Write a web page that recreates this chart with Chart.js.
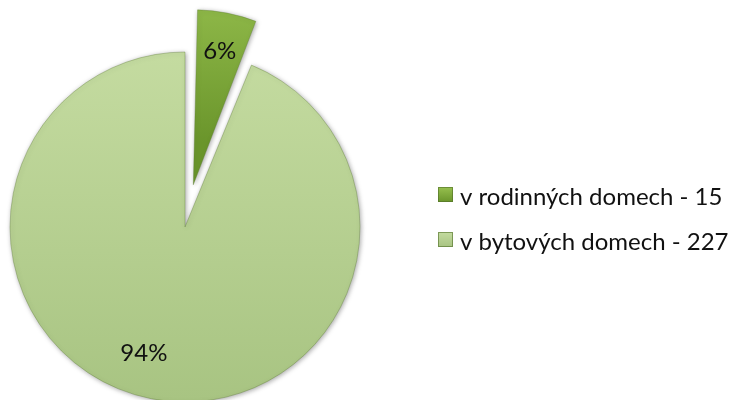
<!DOCTYPE html>
<html>
<head>
<meta charset="utf-8">
<script src="https://cdn.jsdelivr.net/npm/chart.js@4.4.1/dist/chart.umd.min.js"></script>
<style>
    html, body { margin: 0; padding: 0; background: #ffffff; }
    #wrap { width: 731px; height: 400px; }
</style>
</head>
<body>
<div id="wrap"><canvas id="pieChart" width="731" height="400"></canvas></div>
<script>
// data
const categories = ['v rodinných domech', 'v bytových domech'];
const values = [15, 227];

const total = values.reduce((a, b) => a + b, 0);
const legendLabels = categories.map((c, i) => c + ' - ' + values[i]);

const FONT = 'Lato, "Open Sans", sans-serif';
const PIE_RADIUS = 175;

// top / bottom colours of each slice
const shades = [
    ['#97c04f', '#6a952b'],
    ['#c4dba0', '#a8c482']
];

function sliceFill(context) {
    const i = context.dataIndex;
    const g = context.chart.ctx.createLinearGradient(0, i === 0 ? 15 : 55, 0, i === 0 ? 185 : 400);
    g.addColorStop(0, shades[i][0]);
    g.addColorStop(1, shades[i][1]);
    return g;
}

// chart.js moves an exploded arc by offset / 4 and also grows its radius,
// so pull the radius back to the same size as the rest of the pie
function shift(arc) {
    return (arc.options.offset || 0) / 4;
}

const shadowAndLabels = {
    id: 'shadowAndLabels',
    beforeDatasetsDraw(chart) {
        const meta = chart.getDatasetMeta(0);
        meta.data.forEach((arc) => {
            const circ = arc.endAngle - arc.startAngle;
            const grow = shift(arc) * (1 - Math.sin(Math.min(Math.PI, circ)));
            arc.outerRadius = meta.controller.outerRadius - grow;
        });
        const c = chart.ctx;
        c.save();
        c.shadowColor = 'rgba(0, 0, 0, 0.35)';
        c.shadowBlur = 5;
        c.shadowOffsetX = 1;
        c.shadowOffsetY = 1;
    },
    afterDatasetsDraw(chart) {
        const c = chart.ctx;
        c.restore();
        const meta = chart.getDatasetMeta(0);
        c.save();
        c.font = '24px ' + FONT;
        c.fillStyle = '#111111';
        c.textAlign = 'center';
        c.textBaseline = 'middle';
        meta.data.forEach((arc, i) => {
            const mid = (arc.startAngle + arc.endAngle) / 2 + (i === 1 ? 0.12 : 0);
            const r = PIE_RADIUS * (i === 1 ? 0.76 : 0.78) + shift(arc);
            const text = Math.round(values[i] / total * 100) + '%';
            c.fillText(text, arc.x + Math.cos(mid) * r, arc.y + Math.sin(mid) * r);
        });
        c.restore();
    }
};

const sideLegend = {
    id: 'sideLegend',
    afterDraw(chart) {
        const c = chart.ctx;
        c.save();
        c.font = '24px ' + FONT;
        c.textBaseline = 'alphabetic';
        legendLabels.forEach((label, i) => {
            const top = 187 + i * 45;
            const g = c.createLinearGradient(0, top, 0, top + 15);
            g.addColorStop(0, shades[i][0]);
            g.addColorStop(1, shades[i][1]);
            c.fillStyle = g;
            c.fillRect(438, top, 15, 15);
            c.strokeStyle = 'rgba(80, 110, 40, 0.6)';
            c.lineWidth = 1;
            c.strokeRect(438.5, top + 0.5, 14, 14);
            c.fillStyle = '#111111';
            c.fillText(label, 460, top + 18);
        });
        c.restore();
    }
};

new Chart(document.getElementById('pieChart'), {

    type: 'pie',

    data: {
        labels: legendLabels,
        datasets: [
            {
                data: values,
                backgroundColor: sliceFill,
                borderColor: 'rgba(90, 120, 50, 0.35)',
                borderWidth: 1,
                offset: [172, 0],
                radius: PIE_RADIUS
            }
        ]
    },

    options: {
        responsive: false,
        animation: false,
        devicePixelRatio: 1,
        layout: {
            padding: { left: 0, right: 361, top: 54, bottom: 0 }
        },
        plugins: {
            legend: { display: false },
            tooltip: { enabled: false }
        }
    },

    plugins: [shadowAndLabels, sideLegend]

});
</script>
</body>
</html>
